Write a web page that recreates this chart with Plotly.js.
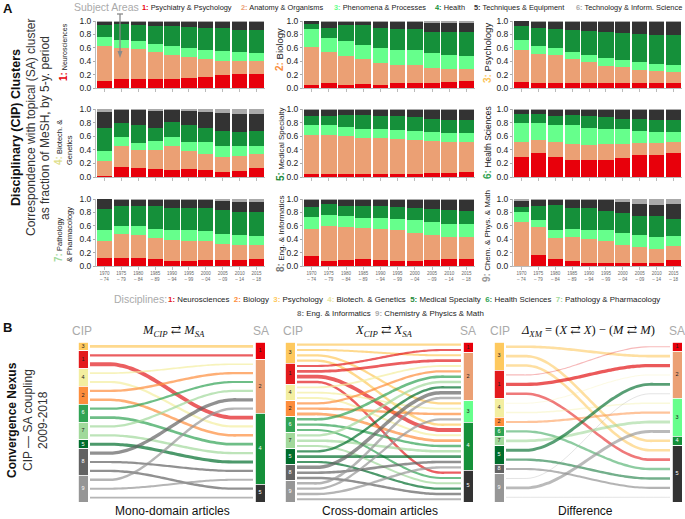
<!DOCTYPE html>
<html>
<head>
<meta charset="utf-8">
<script src="https://cdn.plot.ly/plotly-3.0.1.min.js"></script>
<style>
  body { margin: 0; background: #fff; }
  #chart { width: 685px; height: 519px; }
</style>
</head>
<body>
<div id="chart"></div>
<script>
const W = 685, H = 519;

// ---- Part A: subject-area shares per discipline, by 5-y period ----
const periods = ['1970<br>– 74', '1975<br>– 79', '1980<br>– 84', '1985<br>– 89', '1990<br>– 94',
                 '1995<br>– 99', '2000<br>– 04', '2005<br>– 09', '2010<br>– 14', '2015<br>– 18'];
const subjectAreas = ['Psychiatry & Psychology', 'Anatomy & Organisms', 'Phenomena & Processes',
                      'Health', 'Techniques & Equipment', 'Technology & Inform. Science'];
const saColors = ['#e8000b', '#eba074', '#66ff8c', '#15903a', '#333333', '#aaaaaa'];

// rows = subject areas 1..6, columns = periods
const neurosciences = [
  [.10, .13, .13, .13, .14, .15, .17, .20, .21, .21],
  [.52, .47, .45, .40, .36, .31, .26, .20, .19, .19],
  [.14, .12, .12, .12, .13, .14, .14, .15, .13, .12],
  [.18, .23, .24, .28, .29, .31, .33, .34, .34, .35],
  [.05, .04, .05, .06, .07, .08, .09, .10, .11, .11],
  [.01, .01, .01, .01, .01, .01, .01, .01, .02, .02]
];
const biology = [
  [.04, .07, .04, .06, .05, .07, .07, .07, .09, .10],
  [.57, .46, .44, .37, .33, .28, .27, .23, .19, .18],
  [.27, .21, .22, .21, .22, .21, .22, .22, .22, .20],
  [.08, .15, .24, .30, .30, .32, .32, .32, .33, .36],
  [.04, .10, .05, .05, .09, .11, .11, .13, .14, .13],
  [.00, .01, .01, .01, .01, .01, .01, .03, .03, .03]
];
const psychology = [
  [.09, .08, .08, .07, .07, .07, .07, .07, .07, .08],
  [.47, .43, .41, .36, .32, .26, .24, .20, .18, .16],
  [.15, .11, .10, .11, .11, .12, .11, .12, .11, .10],
  [.22, .28, .29, .33, .35, .38, .40, .41, .43, .45],
  [.07, .09, .11, .12, .14, .16, .17, .18, .19, .19],
  [.00, .01, .01, .01, .01, .01, .01, .02, .02, .02]
];
const biotech = [
  [.01, .15, .13, .12, .10, .12, .11, .07, .09, .13],
  [.23, .30, .27, .27, .36, .26, .23, .23, .22, .21],
  [.14, .14, .10, .14, .13, .14, .17, .16, .14, .12],
  [.34, .20, .26, .19, .22, .24, .21, .22, .21, .22],
  [.23, .19, .22, .25, .17, .21, .24, .26, .27, .25],
  [.05, .02, .02, .03, .02, .03, .04, .06, .07, .07]
];
const medical = [
  [.04, .05, .05, .05, .05, .05, .05, .06, .06, .07],
  [.58, .57, .55, .53, .53, .51, .50, .47, .46, .45],
  [.14, .14, .14, .13, .12, .13, .13, .13, .13, .13],
  [.14, .13, .17, .20, .20, .20, .20, .20, .19, .19],
  [.09, .09, .08, .08, .09, .10, .11, .12, .14, .14],
  [.01, .02, .01, .01, .01, .01, .01, .02, .02, .02]
];
const health = [
  [.30, .35, .30, .25, .25, .25, .28, .32, .33, .35],
  [.22, .20, .22, .23, .22, .23, .20, .18, .17, .16],
  [.28, .24, .25, .28, .25, .22, .22, .18, .16, .15],
  [.13, .13, .12, .15, .18, .18, .15, .17, .18, .18],
  [.06, .07, .10, .08, .09, .11, .14, .13, .14, .14],
  [.01, .01, .01, .01, .01, .01, .01, .02, .02, .02]
];
const pathology = [
  [.12, .12, .12, .11, .08, .08, .09, .09, .09, .10],
  [.26, .36, .35, .31, .31, .30, .28, .24, .22, .21],
  [.15, .12, .12, .13, .15, .16, .15, .15, .15, .14],
  [.32, .29, .31, .34, .33, .33, .34, .35, .35, .36],
  [.15, .09, .08, .09, .11, .11, .12, .14, .15, .15],
  [.00, .02, .02, .02, .02, .02, .02, .03, .04, .04]
];
const engineering = [
  [.15, .08, .09, .10, .09, .08, .08, .09, .10, .11],
  [.40, .52, .49, .46, .46, .45, .42, .38, .34, .33],
  [.18, .16, .16, .16, .16, .17, .18, .18, .18, .18],
  [.15, .16, .16, .18, .18, .18, .19, .20, .21, .20],
  [.10, .06, .08, .08, .09, .10, .11, .13, .15, .16],
  [.02, .02, .02, .02, .02, .02, .02, .02, .02, .02]
];
const chemistry = [
  [.00, .16, .10, .07, .04, .04, .04, .04, .04, .09],
  [.66, .42, .32, .37, .37, .33, .27, .24, .21, .21],
  [.14, .11, .11, .11, .12, .16, .19, .18, .18, .15],
  [.08, .21, .38, .31, .34, .29, .29, .29, .31, .25],
  [.09, .08, .08, .13, .12, .17, .17, .18, .17, .23],
  [.03, .02, .01, .01, .01, .01, .04, .07, .09, .07]
];

// ---- Part B: CIP -> SA couplings (2009-2018) ----
const cipOrder = [3, 1, 4, 2, 6, 7, 5, 8, 9];
const cipColors = {1: '#e31a1c', 2: '#fd8d3c', 3: '#fec95e', 4: '#f3eea0', 5: '#006d2c',
                   6: '#31a354', 7: '#a1d99b', 8: '#636363', 9: '#969696'};
const nexusSaColors = {1: '#e8000b', 2: '#eba074', 3: '#66ff8c', 4: '#15903a', 5: '#333333'};

const monoCip = [3, 1, 1, 4, 4, 2, 2, 6, 6, 7, 7, 5, 8, 8, 8, 9, 9, 9];
const monoSa  = [1, 1, 4, 2, 4, 2, 4, 2, 4, 2, 4, 4, 2, 4, 5, 2, 4, 5];
const monoW   = [.6, .45, .9, .3, .45, .5, .55, .45, .6, .45, .5, .7, .75, .45, .5, .5, .4, .3];

const crossCip = [3, 3, 3, 3, 1, 1, 1, 1, 4, 4, 4, 2, 2, 2, 6, 6, 6, 7, 7, 7, 5, 5, 5, 8, 8, 8, 9, 9, 9, 9];
const crossSa  = [1, 2, 3, 4, 1, 2, 4, 5, 2, 3, 4, 2, 3, 4, 2, 4, 5, 2, 4, 5, 2, 4, 5, 2, 4, 5, 2, 3, 4, 5];
const crossW   = [.5, .4, .45, .5, .45, .6, .9, .5, .35, .35, .4, .45, .5, .6, .55, .5, .4,
                  .5, .55, .4, .5, .6, .45, .8, .55, .5, .55, .45, .5, .4];

const diffCip = [3, 3, 3, 1, 1, 1, 4, 4, 2, 6, 7, 5, 5, 8, 9, 9, 9];
const diffSa  = [2, 4, 5, 1, 2, 5, 2, 3, 3, 5, 3, 2, 5, 5, 2, 3, 5];
const diffW   = [.55, .55, .55, .15, .75, .55, .12, .25, .45, .5, .6, .65, .5, .4, .1, .65, .1];

// ---- helpers ----
const fx = px => px / W;
const fy = py => 1 - py / H;
const FONT = 'Arial, "Liberation Sans", sans-serif';

const panels = [
  {data: neurosciences, num: '1', label: 'Neurosciences', size: 7, color: '#e8000b', lx: 63, ly: 52},
  {data: biology, num: '2', label: 'Biology', size: 9.5, color: '#f98e40', lx: 280, ly: 50},
  {data: psychology, num: '3', label: 'Psychology', size: 9.5, color: '#fbc45a', lx: 487, ly: 53},
  {data: biotech, num: '4', label: 'Biotech. &<br>Genetics', size: 7.5, color: '#dede8a', lx: 63, ly: 142},
  {data: medical, num: '5', label: 'Medical Specialty', size: 8, color: '#1b8a3a', lx: 280, ly: 145},
  {data: health, num: '6', label: 'Health Sciences', size: 8.5, color: '#31a354', lx: 487, ly: 143},
  {data: pathology, num: '7', label: 'Pathology<br>& Pharmacology', size: 7.5, color: '#a1d99b', lx: 63, ly: 234},
  {data: engineering, num: '8', label: 'Eng. & Informatics', size: 8, color: '#777777', lx: 280, ly: 234},
  {data: chemistry, num: '9', label: 'Chem. & Phys. & Math', size: 8, color: '#999999', lx: 487, ly: 236}
];
const colsX = [[96, 265], [303, 475], [513, 682]];
const rowsY = [[21, 88], [109, 177], [199, 266]];

const traces = [];
const layout = {
  width: W, height: H,
  margin: {l: 0, r: 0, t: 0, b: 0},
  paper_bgcolor: '#ffffff',
  plot_bgcolor: '#ffffff',
  barmode: 'stack',
  bargap: 0.1,
  showlegend: false,
  font: {family: FONT, color: '#222'},
  annotations: [],
  shapes: []
};

const numLabel = (num, color, size) =>
  `<span style="color:${color}${size ? ';font-size:' + size + 'px' : ''}"><b>${num}:</b></span>`;

panels.forEach((p, i) => {
  const n = i + 1;
  const col = i % 3, row = Math.floor(i / 3);
  const xa = 'x' + (n === 1 ? '' : n), ya = 'y' + (n === 1 ? '' : n);
  p.data.forEach((vals, k) => {
    traces.push({
      type: 'bar', x: periods.map((_, j) => j), y: vals,
      marker: {color: saColors[k], line: {width: 0}},
      xaxis: xa, yaxis: ya, hoverinfo: 'skip', name: subjectAreas[k]
    });
  });
  layout['xaxis' + (n === 1 ? '' : n)] = {
    domain: [fx(colsX[col][0]), fx(colsX[col][1])],
    anchor: ya, range: [-0.5, 9.5],
    tickvals: periods.map((_, j) => j), ticktext: periods,
    showticklabels: row === 2,
    tickfont: {size: 4.5, color: '#666'},
    ticks: 'outside', ticklen: 3, tickcolor: '#bbb',
    showline: true, linecolor: '#bbb', linewidth: 1,
    showgrid: false, zeroline: false, fixedrange: true
  };
  layout['yaxis' + (n === 1 ? '' : n)] = {
    domain: [fy(rowsY[row][1]), fy(rowsY[row][0])],
    anchor: xa, range: [0, 1.0],
    tickvals: [0, 0.2, 0.4, 0.6, 0.8, 1.0], tickformat: '.1f',
    tickfont: {size: 8.5, color: '#222'},
    ticks: 'outside', ticklen: 2, tickcolor: '#aaa',
    showline: true, linecolor: '#bbb', linewidth: 1,
    showgrid: false, zeroline: false, fixedrange: true
  };
  layout.annotations.push({
    xref: 'paper', yref: 'paper', x: fx(p.lx), y: fy(p.ly),
    xanchor: 'center', yanchor: 'middle', textangle: -90, showarrow: false,
    text: `${numLabel(p.num, p.color, 10)} ${p.label}`,
    font: {size: p.size, color: '#222', family: FONT}, align: 'left'
  });
});

// ---- Part B nexus diagrams ----
const nexusX = [[78, 265], [285, 473], [494, 682]];
const nexusY = [342, 502];
const nexusSets = [
  {cips: monoCip, sas: monoSa, w: monoW, fade: false},
  {cips: crossCip, sas: crossSa, w: crossW, fade: false},
  {cips: diffCip, sas: diffSa, w: diffW, fade: true}
];

function ease(t) {
  const u = Math.min(1, Math.max(0, (t - 0.12) / 0.76));
  return u * u * (3 - 2 * u);
}
function hexToRgba(hex, a) {
  const v = parseInt(hex.slice(1), 16);
  return `rgba(${(v >> 16) & 255},${(v >> 8) & 255},${v & 255},${a})`;
}

nexusSets.forEach((s, b) => {
  const n = 10 + b;
  const xa = 'x' + n, ya = 'y' + n;
  const count = s.cips.length;
  const span = nexusX[b][1] - nexusX[b][0];
  const nodeW = 10 / span, gap = 2 / span;
  const ord = c => cipOrder.indexOf(c);
  const idx = s.cips.map((_, k) => k);
  const left = idx.slice().sort((a, c) => ord(s.cips[a]) - ord(s.cips[c]) || s.sas[a] - s.sas[c]);
  const right = idx.slice().sort((a, c) => s.sas[a] - s.sas[c] || ord(s.cips[a]) - ord(s.cips[c]));
  const yL = [], yR = [];
  left.forEach((k, i) => { yL[k] = i + 0.5; });
  right.forEach((k, i) => { yR[k] = i + 0.5; });

  // links
  const steps = 40;
  idx.forEach(k => {
    const xs = [], ys = [];
    for (let j = 0; j <= steps; j++) {
      const t = j / steps;
      xs.push(nodeW + gap + (1 - 2 * nodeW - 2 * gap) * t);
      ys.push(yL[k] + (yR[k] - yL[k]) * ease(t));
    }
    const w = s.w[k];
    const alpha = s.fade ? 0.2 + 0.7 * w : 0.7;
    traces.push({
      type: 'scatter', mode: 'lines', x: xs, y: ys, xaxis: xa, yaxis: ya,
      line: {color: hexToRgba(cipColors[s.cips[k]], alpha), width: 0.6 + 3.6 * w, shape: 'spline'},
      hoverinfo: 'skip'
    });
  });

  // nodes: CIP (left) and SA (right)
  const nodes = {x: [], base: [], h: [], text: [], col: [], tcol: []};
  let acc = 0;
  cipOrder.forEach(c => {
    const m = s.cips.filter(v => v === c).length;
    if (!m) return;
    nodes.x.push(nodeW / 2); nodes.base.push(acc); nodes.h.push(m); nodes.text.push(String(c));
    nodes.col.push(cipColors[c]); nodes.tcol.push([5, 6, 8, 9].includes(c) ? '#ffffff' : '#222');
    acc += m;
  });
  acc = 0;
  [1, 2, 3, 4, 5].forEach(a => {
    const m = s.sas.filter(v => v === a).length;
    if (!m) return;
    nodes.x.push(1 - nodeW / 2); nodes.base.push(acc); nodes.h.push(m); nodes.text.push(String(a));
    nodes.col.push(nexusSaColors[a]); nodes.tcol.push(a === 4 || a === 5 ? '#ffffff' : '#222');
    acc += m;
  });
  traces.push({
    type: 'bar', x: nodes.x, y: nodes.h, base: nodes.base, width: nodes.x.map(() => nodeW),
    marker: {color: nodes.col, line: {color: '#ffffff', width: 0.8}},
    xaxis: xa, yaxis: ya, hoverinfo: 'skip'
  });
  traces.push({
    type: 'scatter', mode: 'text', x: nodes.x, y: nodes.base.map((v, i) => v + nodes.h[i] / 2),
    text: nodes.text, textposition: 'middle center',
    textfont: {size: 5.5, color: nodes.tcol, family: FONT}, xaxis: xa, yaxis: ya, hoverinfo: 'skip'
  });

  layout['xaxis' + n] = {domain: [fx(nexusX[b][0]), fx(nexusX[b][1])], anchor: ya, range: [0, 1],
                         visible: false, fixedrange: true};
  layout['yaxis' + n] = {domain: [fy(nexusY[1]), fy(nexusY[0])], anchor: xa, range: [count, 0],
                         visible: false, fixedrange: true};
});

// ---- text annotations ----
const ann = (x, y, text, opts = {}) => layout.annotations.push(Object.assign({
  xref: 'paper', yref: 'paper', x: fx(x), y: fy(y), text, showarrow: false,
  xanchor: 'left', yanchor: 'middle', font: {size: 10, color: '#222', family: FONT}
}, opts));

ann(1, 8, '<b>A</b>', {font: {size: 13, color: '#111', family: FONT}});
ann(1, 327, '<b>B</b>', {font: {size: 13, color: '#111', family: FONT}});

// subject area legend
const saLegendX = [140, 239, 332, 433, 472, 574];
ann(72, 7, 'Subject Areas', {font: {size: 10.5, color: '#aaaaaa', family: FONT}});
subjectAreas.forEach((name, k) => {
  ann(saLegendX[k], 7, `${numLabel(k + 1, saColors[k])} ${name}`,
      {font: {size: 7.4, color: '#222', family: FONT}});
});

// left titles A
ann(16, 128, '<b>Disciplinary (CIP) Clusters</b>', {xanchor: 'center', textangle: -90,
    font: {size: 12.5, color: '#111', family: FONT}});
ann(31, 128, 'Correspondence with topical (SA) cluster', {xanchor: 'center', textangle: -90,
    font: {size: 12, color: '#333', family: FONT}});
ann(45, 128, 'as fraction of MeSH, by 5-y. period', {xanchor: 'center', textangle: -90,
    font: {size: 12, color: '#333', family: FONT}});

// arrow in first panel
layout.shapes.push({type: 'line', xref: 'paper', yref: 'paper', x0: fx(120), x1: fx(120),
  y0: fy(14), y1: fy(52), line: {color: '#8a8a8a', width: 1.3}});
layout.shapes.push({type: 'line', xref: 'paper', yref: 'paper', x0: fx(117), x1: fx(123),
  y0: fy(14), y1: fy(14), line: {color: '#8a8a8a', width: 1.3}});
layout.shapes.push({type: 'path', xref: 'paper', yref: 'paper',
  path: `M ${fx(117.5)} ${fy(51)} L ${fx(122.5)} ${fy(51)} L ${fx(120)} ${fy(58)} Z`,
  fillcolor: '#8a8a8a', line: {width: 0}});

// disciplines legend
const discNames = ['Neurosciences', 'Biology', 'Psychology', 'Biotech. & Genetics', 'Medical Specialty',
                   'Health Sciences', 'Pathology & Pharmacology', 'Eng. & Informatics',
                   'Chemistry & Physics & Math'];
const discNumColors = ['#e31a1c', '#fd8d3c', '#fec95e', '#e8e49a', '#1b8a3a', '#31a354', '#a1d99b',
                       '#777777', '#aaaaaa'];
const discItem = k => `${numLabel(k + 1, discNumColors[k])} ${discNames[k]}`;
ann(112, 299, 'Disciplines:', {font: {size: 10.5, color: '#aaaaaa', family: FONT}});
ann(166, 299, [0, 1, 2, 3, 4, 5, 6].map(discItem).join('  '),
    {font: {size: 7.9, color: '#222', family: FONT}});
ann(390, 313, [7, 8].map(discItem).join('  '), {xanchor: 'center',
    font: {size: 7.9, color: '#222', family: FONT}});

// nexus headers
const hdr = {size: 12, color: '#aaaaaa', family: FONT};
[[82, 261], [293, 468], [500, 677]].forEach(([c, s]) => {
  ann(c, 331, 'CIP', {xanchor: 'center', font: hdr});
  ann(s, 331, 'SA', {xanchor: 'center', font: hdr});
});
const serif = {size: 12.5, color: '#111', family: '"Liberation Serif", "DejaVu Serif", serif'};
ann(173, 331, '<i>M</i><sub><i>CIP</i></sub> ⇄ <i>M</i><sub><i>SA</i></sub>', {xanchor: 'center', font: serif});
ann(384, 331, '<i>X</i><sub><i>CIP</i></sub> ⇄ <i>X</i><sub><i>SA</i></sub>', {xanchor: 'center', font: serif});
ann(588, 331, '<i>Δ</i><sub><i>XM</i></sub> = (<i>X</i> ⇄ <i>X</i>) − (<i>M</i> ⇄ <i>M</i>)',
    {xanchor: 'center', font: serif});

const foot = {size: 12, color: '#111', family: FONT};
ann(172, 511, 'Mono-domain articles', {xanchor: 'center', font: foot});
ann(380, 511, 'Cross-domain articles', {xanchor: 'center', font: foot});
ann(585, 511, 'Difference', {xanchor: 'center', font: foot});

ann(12, 420, '<b>Convergence Nexus</b>', {xanchor: 'center', textangle: -90,
    font: {size: 12, color: '#111', family: FONT}});
ann(28, 420, 'CIP — SA coupling', {xanchor: 'center', textangle: -90,
    font: {size: 12, color: '#333', family: FONT}});
ann(43, 420, '2009-2018', {xanchor: 'center', textangle: -90,
    font: {size: 12, color: '#333', family: FONT}});

Plotly.newPlot('chart', traces, layout, {staticPlot: true, displayModeBar: false});
</script>
</body>
</html>
